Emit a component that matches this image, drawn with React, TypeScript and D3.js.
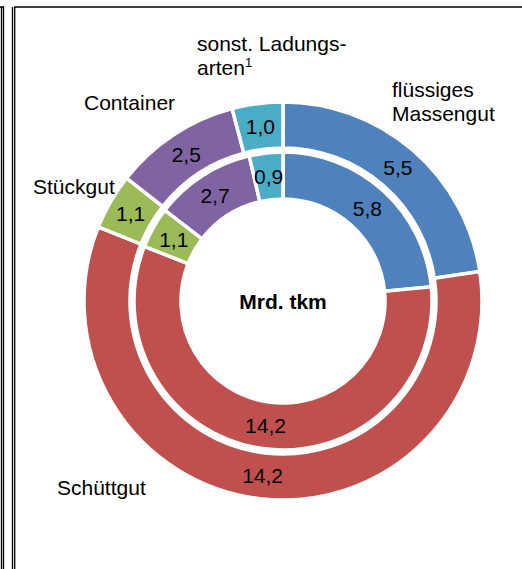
import React from "react";
import * as d3 from "d3";

const categories = ["flüssiges Massengut", "Schüttgut", "Stückgut", "Container", "sonst. Ladungsarten"];
const outerValues = [5.5, 14.2, 1.1, 2.5, 1.0];
const innerValues = [5.8, 14.2, 1.1, 2.7, 0.9];
const colors = ["#4F81BD", "#C0504D", "#9BBB59", "#8064A2", "#4BACC6"];
const centerLabel = "Mrd. tkm";

const W = 522;
const H = 569;
const cx = 283;
const cy = 301;
const FONT = "'Liberation Sans', Arial, sans-serif";
const FS = 21;

// category label layout (lines, x, first baseline)
const catLabels: { lines: string[]; x: number; y: number }[] = [
  { lines: ["flüssiges", "Massengut"], x: 392, y: 97 },
  { lines: ["Schüttgut"], x: 57, y: 495 },
  { lines: ["Stückgut"], x: 33, y: 194 },
  { lines: ["Container"], x: 84, y: 110 },
  { lines: ["sonst. Ladungs-", "arten"], x: 197, y: 51 },
];

const fmt = (v: number) => v.toFixed(1).replace(".", ",");

export default function App() {
  const pie = d3.pie<number>().sort(null).value((d) => d);
  const outerArcs = pie(outerValues);
  const innerArcs = pie(innerValues);
  const outerArc = d3.arc<d3.PieArcDatum<number>>().innerRadius(153).outerRadius(199);
  const innerArc = d3.arc<d3.PieArcDatum<number>>().innerRadius(102).outerRadius(149);

  return (
    <svg width={W} height={H} style={{ position: "absolute", left: 0, top: 0, background: "#fff" }} fontFamily={FONT}>
      {/* frame */}
      <g stroke="#000" strokeWidth={1.3} fill="none">
        <path d={`M0,7H3.5V${H}`} />
        <line x1={1.5} y1={7} x2={1.5} y2={H} />
        <line x1={12.5} y1={7} x2={12.5} y2={H} />
        <path d={`M14.7,${H}V7H${W}`} />
      </g>
      <g transform={`translate(${cx},${cy})`}>
        {outerArcs.map((a, i) => (
          <path key={"o" + i} d={outerArc(a) || ""} fill={colors[i]} stroke="#fff" strokeWidth={3.5} />
        ))}
        {innerArcs.map((a, i) => (
          <path key={"i" + i} d={innerArc(a) || ""} fill={colors[i]} stroke="#fff" strokeWidth={3.5} />
        ))}
        {outerArcs.map((a, i) => {
          const [x, y] = outerArc.centroid(a);
          return (
            <text key={"ot" + i} x={x} y={y} dy="0.36em" textAnchor="middle" fontSize={FS} fill="#000">
              {fmt(outerValues[i])}
            </text>
          );
        })}
        {innerArcs.map((a, i) => {
          const [x, y] = innerArc.centroid(a);
          return (
            <text key={"it" + i} x={x} y={y} dy="0.36em" textAnchor="middle" fontSize={FS} fill="#000">
              {fmt(innerValues[i])}
            </text>
          );
        })}
        <text x={0} y={0} dy="0.36em" textAnchor="middle" fontSize={FS} fontWeight="bold" fill="#000">
          {centerLabel}
        </text>
      </g>
      {catLabels.map((l, i) => (
        <text key={"c" + i} x={l.x} y={l.y} fontSize={FS} fill="#000">
          {l.lines.map((ln, j) => (
            <tspan key={j} x={l.x} y={l.y + j * 23.5}>
              {ln}
              {i === 4 && j === 1 ? (
                <tspan fontSize={13} dy={-8}>1</tspan>
              ) : null}
            </tspan>
          ))}
        </text>
      ))}
    </svg>
  );
}
